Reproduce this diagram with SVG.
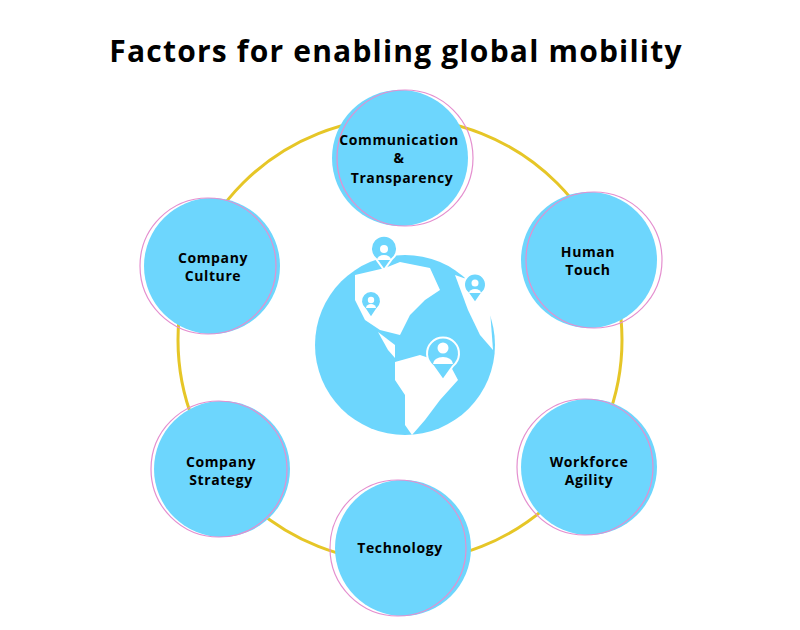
<svg xmlns="http://www.w3.org/2000/svg" width="800" height="630" viewBox="0 0 800 630">
<style>
.n{fill:#6dd6fd}
.r{fill:none;stroke:#e48fcf;stroke-width:1.2}
.t{font-family:"Open Sans","Liberation Sans",sans-serif;font-weight:700;font-size:14px;letter-spacing:0.6px;fill:#000;text-anchor:middle}
.pin{fill:#6dd6fd;stroke:#fff;stroke-width:2}
</style>
<rect width="800" height="630" fill="#fff"/>
<text x="396" y="62" style="font-family:'Open Sans','Liberation Sans',sans-serif;font-weight:700;font-size:30px;letter-spacing:1.2px" text-anchor="middle">Factors for enabling global mobility</text>
<g id="connectors"><circle cx="400" cy="340" r="222" fill="none" stroke="#e6c627" stroke-width="3"/></g>
<g id="globe">
<circle cx="405" cy="345" r="90" fill="#6dd6fd"/>
<path d="M355 275 L385 268 L400 262 L430 268 L440 290 L425 300 L410 315 L400 335 L380 330 L365 320 L355 300 Z" fill="#fff"/>
<path d="M395 362 L420 355 L450 365 L458 380 L440 400 L425 420 L412 435 L405 425 L405 395 L395 380 Z" fill="#fff"/>
<path d="M455 275 L475 282 L490 310 L493 350 L480 335 L468 310 Z" fill="#fff"/>
<path d="M378 332 L395 345 L395 358 L388 350 Z" fill="#fff"/>
<g class="pin"><path d="M384 270 L376 259 A13 13 0 1 1 392 259 Z"/><path d="M475 303 L468 293 A11 11 0 1 1 482 293 Z"/><path d="M371 318 L365 309 A10 10 0 1 1 377 309 Z"/><path d="M443 380 L433 366 A16 16 0 1 1 453 366 Z"/></g>
<g fill="#fff"><circle cx="384" cy="249" r="4"/><path d="M377 260 a7 5 0 0 1 14 0 Z"/><circle cx="475" cy="283" r="3.5"/><path d="M469 293 a6 4 0 0 1 12 0 Z"/><circle cx="371" cy="300" r="3.2"/><path d="M366 308 a5 4 0 0 1 10 0 Z"/><circle cx="443" cy="348" r="5.5"/><path d="M433 364 a10 7 0 0 1 20 0 Z"/></g>
</g>
<g id="n1"><circle class="n" cx="400" cy="158" r="68"/><circle class="r" cx="405" cy="158" r="68"/><text class="t" x="399" y="145">Communication</text><text class="t" x="399" y="163">&amp;</text><text class="t" x="402" y="183">Transparency</text></g>
<g id="n2"><circle class="n" cx="589" cy="260" r="68"/><circle class="r" cx="594" cy="260" r="68"/><text class="t" x="588" y="257">Human</text><text class="t" x="588" y="275">Touch</text></g>
<g id="n3"><circle class="n" cx="589" cy="467" r="68"/><circle class="r" cx="585" cy="467" r="68"/><text class="t" x="589" y="467">Workforce</text><text class="t" x="589" y="485">Agility</text></g>
<g id="n4"><circle class="n" cx="403" cy="548" r="68"/><circle class="r" cx="398" cy="548" r="68"/><text class="t" x="400" y="553">Technology</text></g>
<g id="n5"><circle class="n" cx="222" cy="469" r="68"/><circle class="r" cx="219" cy="469" r="68"/><text class="t" x="221" y="467">Company</text><text class="t" x="221" y="485">Strategy</text></g>
<g id="n6"><circle class="n" cx="212" cy="266" r="68"/><circle class="r" cx="208" cy="266" r="68"/><text class="t" x="213" y="263">Company</text><text class="t" x="213" y="281">Culture</text></g>
</svg>
